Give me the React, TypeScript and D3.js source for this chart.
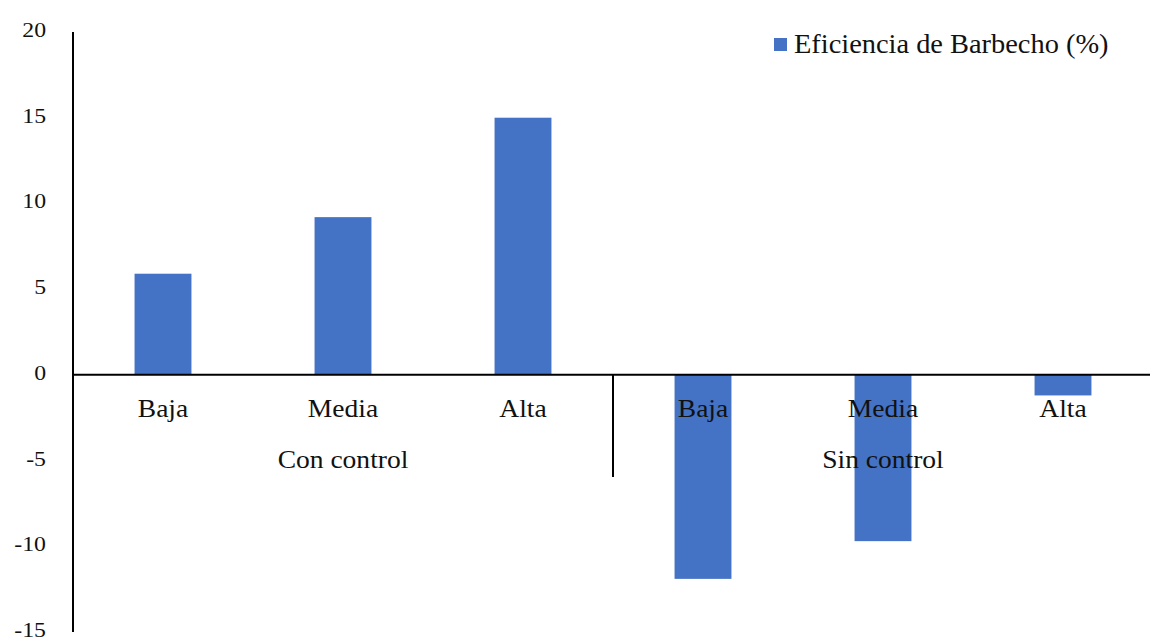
import React from "react";
import * as d3 from "d3";

// Eficiencia de barbecho por nivel de cobertura, con y sin control
const groups: string[] = ["Con control", "Sin control"];
const levels: string[] = ["Baja", "Media", "Alta"];
const conControl: number[] = [5.9, 9.2, 15.0];
const sinControl: number[] = [-11.9, -9.7, -1.2];
const yTicks: number[] = [20, 15, 10, 5, 0, -5, -10, -15];
const seriesName = "Eficiencia de Barbecho (%)";

const W = 1150;
const H = 642;
const FONT = "'Liberation Serif', 'Times New Roman', serif";
const BAR = "#4472C4";
const STRETCH = 1.08;

type Row = { key: string; group: string; level: string; value: number };

const rows: Row[] = [
  ...levels.map((l, i) => ({ key: `c-${l}`, group: groups[0], level: l, value: conControl[i] })),
  ...levels.map((l, i) => ({ key: `s-${l}`, group: groups[1], level: l, value: sinControl[i] })),
];

// Text with the slightly wide serif look of the chart's labels
function Label(props: {
  x: number;
  y: number;
  size: number;
  anchor?: "start" | "middle" | "end";
  children: React.ReactNode;
}) {
  const { x, y, size, anchor = "start", children } = props;
  return (
    <text
      transform={`translate(${x},${y}) scale(${STRETCH},1)`}
      textAnchor={anchor}
      fontSize={size}
      fill="#111"
    >
      {children}
    </text>
  );
}

export default function App() {
  const x0 = 73;
  const x1 = 1153;
  const x = d3
    .scaleBand<string>()
    .domain(rows.map((r) => r.key))
    .range([x0, x1])
    .paddingInner(0.684)
    .paddingOuter(0.342);
  const y = d3.scaleLinear().domain([-15, 20]).range([632, 32]);
  const slot = (x1 - x0) / rows.length;
  const zero = y(0);

  return (
    <svg
      width={W}
      height={H}
      style={{ position: "fixed", left: 0, top: 0, background: "#fff" }}
      fontFamily={FONT}
    >
      <rect width={W} height={H} fill="#fff" />
      {/* bars */}
      {rows.map((r) => (
        <rect
          key={r.key}
          x={x(r.key)}
          width={x.bandwidth()}
          y={Math.min(y(r.value), zero)}
          height={Math.abs(y(r.value) - zero)}
          fill={BAR}
        />
      ))}
      {/* y axis */}
      <line x1={x0} x2={x0} y1={y(20)} y2={y(-15)} stroke="#000" strokeWidth={2} />
      {yTicks.map((t) => (
        <Label key={t} x={46} y={y(t) + 5} size={22} anchor="end">
          {t}
        </Label>
      ))}
      {/* zero baseline */}
      <line x1={x0} x2={W} y1={zero} y2={zero} stroke="#000" strokeWidth={2} />
      {/* group separator */}
      <line
        x1={x0 + slot * levels.length}
        x2={x0 + slot * levels.length}
        y1={zero}
        y2={477}
        stroke="#000"
        strokeWidth={2}
      />
      {/* level labels */}
      {rows.map((r) => (
        <Label
          key={`l-${r.key}`}
          x={(x(r.key) ?? 0) + x.bandwidth() / 2}
          y={417}
          size={25.5}
          anchor="middle"
        >
          {r.level}
        </Label>
      ))}
      {/* group labels */}
      {groups.map((g, i) => (
        <Label key={g} x={x0 + slot * levels.length * (i + 0.5)} y={468} size={25.5} anchor="middle">
          {g}
        </Label>
      ))}
      {/* legend */}
      <rect x={774} y={38} width={13} height={13} fill={BAR} />
      <Label x={794} y={53} size={26.3}>
        {seriesName}
      </Label>
    </svg>
  );
}
